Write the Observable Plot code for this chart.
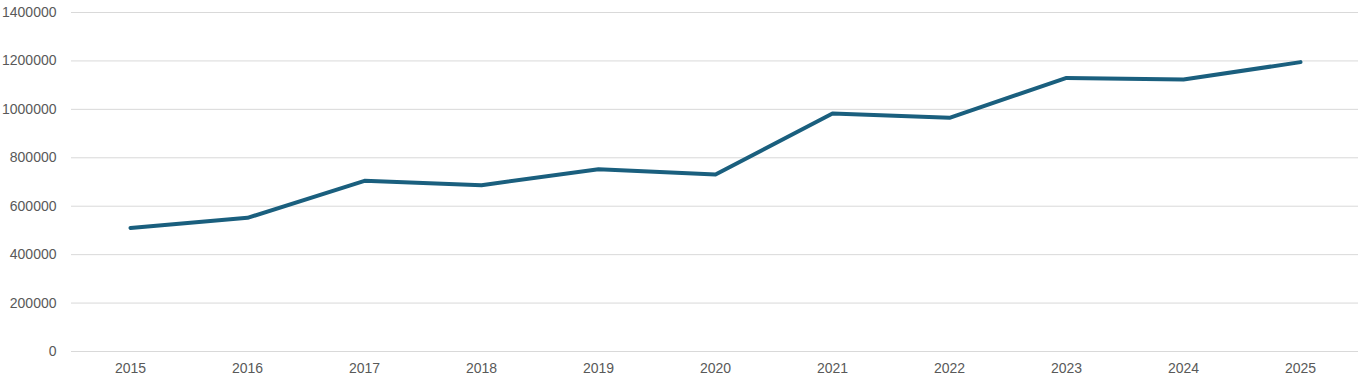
<!DOCTYPE html>
<html>
<head>
<meta charset="utf-8">
<script src="https://cdn.jsdelivr.net/npm/d3@7"></script>
<script src="https://cdn.jsdelivr.net/npm/@observablehq/plot@0.6"></script>
<style>
  html, body { margin: 0; padding: 0; background: #fff; }
  #chart svg { display: block; }
</style>
</head>
<body>
<div id="chart"></div>
<script>
const years = ["2015","2016","2017","2018","2019","2020","2021","2022","2023","2024","2025"];
const values = [510000, 552000, 705000, 687000, 753000, 731000, 983000, 965000, 1130000, 1123000, 1195000];
const yTicks = [0, 200000, 400000, 600000, 800000, 1000000, 1200000, 1400000];

const data = years.map((y, i) => ({year: y, value: values[i]}));

const chart = Plot.plot({
  width: 1370,
  height: 388,
  marginLeft: 71,
  marginRight: 12,
  marginTop: 12,
  marginBottom: 37,
  style: {fontFamily: "'Liberation Sans', Arial, sans-serif", fontSize: "14px", color: "#595959", background: "#fff"},
  x: {type: "point", domain: years, padding: 0.5, align: 0.5, label: null},
  y: {domain: [0, 1400000], label: null},
  marks: [
    Plot.ruleY(yTicks, {stroke: "#d9d9d9", strokeWidth: 1}),
    Plot.axisY(yTicks, {tickSize: 0, tickPadding: 15, tickFormat: d => String(d), label: null, fill: "#595959"}),
    Plot.axisX(years, {tickSize: 0, tickPadding: 12, label: null, fill: "#595959"}),
    Plot.line(data, {x: "year", y: "value", stroke: "#1a5f7e", strokeWidth: 4, strokeLinejoin: "round", strokeLinecap: "round"})
  ]
});
document.getElementById("chart").appendChild(chart);
</script>
</body>
</html>
